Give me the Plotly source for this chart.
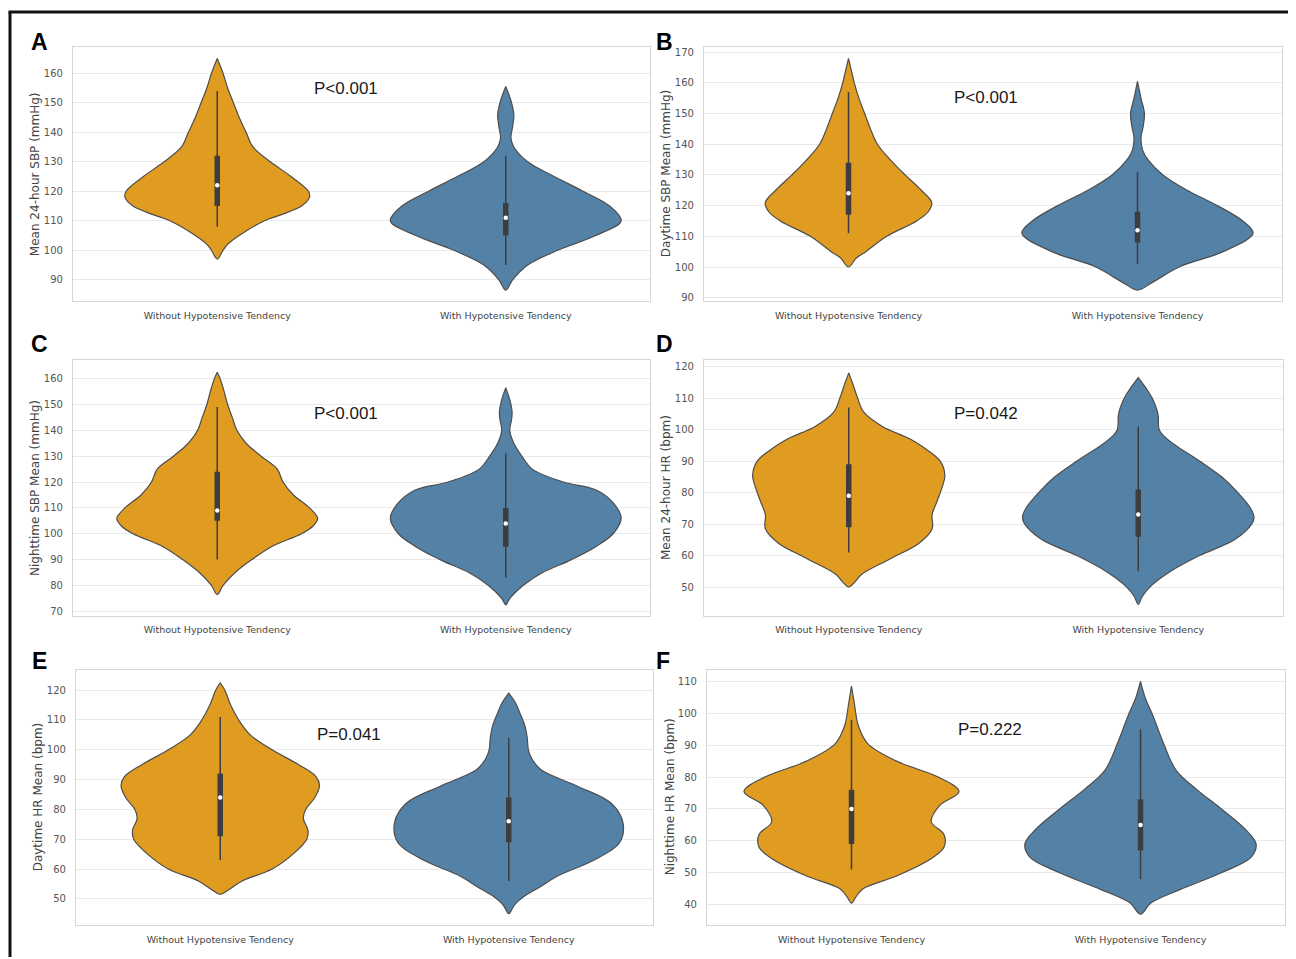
import plotly.graph_objects as go

# page body has an 8px default margin: shift everything so picture aligns with window pixels
OFF = 8
W, H = 1296 - OFF, 959 - OFF

categories = ["Without Hypotensive Tendency", "With Hypotensive Tendency"]
colors = ["#DF9C20", "#5481A6"]

# ---- density outlines (y level, relative half-width 0..1) ----
A_without_y = [97, 100, 102, 105, 110, 112, 115, 118, 120, 125, 130, 135, 140, 145, 150, 155, 160, 165]
A_without_w = [0, 0.05, 0.09, 0.19, 0.41, 0.55, 0.73, 0.80, 0.79, 0.64, 0.46, 0.31, 0.25, 0.19, 0.14, 0.09, 0.05, 0]
A_with_y = [86.5, 90, 95, 100, 105, 110, 115, 120, 125, 130, 135, 138, 142, 146, 150, 153, 155.5]
A_with_w = [0, 0.06, 0.19, 0.45, 0.78, 1.0, 0.90, 0.67, 0.42, 0.19, 0.07, 0.045, 0.06, 0.07, 0.05, 0.025, 0]

B_without_y = [100, 103, 105, 110, 115, 118, 121, 125, 130, 135, 140, 145, 150, 155, 160, 164, 168]
B_without_w = [0, 0.07, 0.15, 0.33, 0.59, 0.69, 0.72, 0.63, 0.49, 0.36, 0.25, 0.19, 0.14, 0.09, 0.05, 0.025, 0]
B_with_y = [92.5, 95, 100, 105, 111, 115, 120, 125, 130, 135, 138, 142, 146, 150, 155, 160.5]
B_with_w = [0, 0.13, 0.36, 0.74, 1.0, 0.91, 0.69, 0.43, 0.22, 0.09, 0.045, 0.03, 0.05, 0.06, 0.03, 0]

C_without_y = [76.5, 80, 85, 90, 95, 100, 103, 106, 110, 115, 120, 125, 130, 135, 140, 145, 150, 155, 160, 162.5]
C_without_w = [0, 0.05, 0.155, 0.30, 0.47, 0.73, 0.83, 0.87, 0.80, 0.66, 0.57, 0.52, 0.38, 0.25, 0.17, 0.13, 0.09, 0.06, 0.025, 0]
C_with_y = [72.5, 75, 80, 85, 90, 95, 100, 106, 112, 117, 120, 125, 130, 135, 140, 144, 147, 151, 156.5]
C_with_w = [0, 0.035, 0.15, 0.32, 0.57, 0.78, 0.93, 1.0, 0.93, 0.78, 0.50, 0.23, 0.14, 0.07, 0.035, 0.05, 0.055, 0.04, 0]

D_without_y = [50, 51.5, 54, 59, 64, 68.5, 73, 77, 81, 85.5, 90, 94, 97, 101, 105.5, 110.7, 115, 118]
D_without_w = [0, 0.05, 0.11, 0.36, 0.61, 0.72, 0.72, 0.76, 0.80, 0.83, 0.79, 0.66, 0.53, 0.29, 0.13, 0.07, 0.03, 0]
D_with_y = [44.5, 47, 50, 55, 60, 65, 70, 72, 75, 80, 85, 90, 95, 98, 100, 105, 110, 113, 116.5]
D_with_w = [0, 0.035, 0.10, 0.28, 0.53, 0.83, 0.98, 1.0, 0.97, 0.86, 0.72, 0.53, 0.32, 0.22, 0.18, 0.17, 0.12, 0.07, 0]

E_without_y = [51.5, 53, 56, 60, 65, 70, 73, 77, 80, 84, 88, 91, 95, 100, 105, 110, 115, 120, 122.5]
E_without_w = [0, 0.07, 0.19, 0.45, 0.63, 0.75, 0.76, 0.72, 0.74, 0.82, 0.86, 0.83, 0.68, 0.45, 0.26, 0.16, 0.09, 0.04, 0]
E_with_y = [45, 48, 51, 54, 57.6, 63, 68.8, 75.5, 82, 87.7, 93.3, 97, 100, 104, 108, 112, 115.6, 119]
E_with_w = [0, 0.05, 0.14, 0.27, 0.42, 0.74, 0.96, 0.99, 0.89, 0.60, 0.28, 0.20, 0.17, 0.16, 0.14, 0.10, 0.06, 0]

F_without_y = [40.5, 42.5, 45, 49, 54, 58, 62, 66, 71, 75.5, 80, 85, 90.5, 96, 103, 108.5]
F_without_w = [0, 0.04, 0.10, 0.39, 0.67, 0.80, 0.80, 0.69, 0.76, 0.93, 0.75, 0.39, 0.14, 0.06, 0.025, 0]
F_with_y = [37, 40.5, 44.7, 50, 55, 59, 63.5, 70, 76, 82, 90.5, 99, 105, 110]
F_with_w = [0, 0.09, 0.34, 0.70, 0.96, 1.0, 0.91, 0.70, 0.49, 0.31, 0.20, 0.11, 0.04, 0]

# ---- inner box stats: [whisker low, q1, median, q3, whisker high] ----
A_stats = [[108, 115, 122, 132, 154], [95, 105, 111, 116, 132]]
B_stats = [[111, 117, 124, 134, 157], [101, 108, 112, 118, 131]]
C_stats = [[90, 105, 109, 124, 149], [83, 95, 104, 110, 131]]
D_stats = [[61, 69, 79, 89, 107], [55, 66, 73, 81, 101]]
E_stats = [[63, 71, 84, 92, 111], [56, 69, 76, 84, 104]]
F_stats = [[51, 59, 70, 76, 98], [48, 57, 65, 73, 95]]

y_titles = ["Mean 24-hour SBP (mmHg)", "Daytime SBP Mean (mmHg)", "Nighttime SBP Mean (mmHg)",
            "Mean 24-hour HR (bpm)", "Daytime HR Mean (bpm)", "Nighttime HR Mean (bpm)"]
p_values = ["P<0.001", "P<0.001", "P<0.001", "P=0.042", "P=0.041", "P=0.222"]
letters = ["A", "B", "C", "D", "E", "F"]
y_ticks = [list(range(90, 161, 10)), list(range(90, 171, 10)), list(range(70, 161, 10)),
           list(range(50, 121, 10)), list(range(50, 121, 10)), list(range(40, 111, 10))]
y_ranges = [[82.7, 168.9], [88.8, 171.7], [68.3, 167.1], [40.9, 122.0], [41.2, 126.9], [33.6, 113.7]]

panels = [
    (A_without_y, A_without_w, A_with_y, A_with_w, A_stats),
    (B_without_y, B_without_w, B_with_y, B_with_w, B_stats),
    (C_without_y, C_without_w, C_with_y, C_with_w, C_stats),
    (D_without_y, D_without_w, D_with_y, D_with_w, D_stats),
    (E_without_y, E_without_w, E_with_y, E_with_w, E_stats),
    (F_without_y, F_without_w, F_with_y, F_with_w, F_stats),
]

# ---- layout geometry (window pixels) ----
boxes = [(73, 650, 47, 302), (704, 1282, 47, 302),
         (73, 650, 361, 617), (704, 1283, 361, 617),
         (76, 653, 671, 927), (707, 1285, 671, 927)]
ytitle_x = [35, 666, 35, 666, 38, 670]
letter_pos = [(40, 42), (665, 42), (40, 345), (665, 345), (40, 662), (663, 662)]
p_pos = [(346, 89), (986, 98), (346, 414), (986, 414), (349, 736), (990, 731)]

def px_x(x):
    return (x - OFF) / W

def px_y(y):
    return 1 - (y - OFF) / H

fig = go.Figure()
HALF = 0.4

for i, (wy, ww, hy, hw, stats) in enumerate(panels):
    n = "" if i == 0 else str(i + 1)
    xa, ya = "x" + n, "y" + n
    for j, (ys, ws) in enumerate([(wy, ww), (hy, hw)]):
        xs = [j + HALF * w for w in ws] + [j - HALF * w for w in ws[::-1]]
        yy = list(ys) + list(ys[::-1])
        fig.add_trace(go.Scatter(x=xs, y=yy, mode="lines", fill="toself",
                                 fillcolor=colors[j], line=dict(color="#4d4d4d", width=1.2, shape="spline", smoothing=1.0),
                                 xaxis=xa, yaxis=ya, showlegend=False, hoverinfo="skip"))
        lo, q1, med, q3, hi = stats[j]
        fig.add_trace(go.Scatter(x=[j, j], y=[lo, hi], mode="lines",
                                 line=dict(color="#3d3d3d", width=1.5),
                                 xaxis=xa, yaxis=ya, showlegend=False, hoverinfo="skip"))
        fig.add_trace(go.Scatter(x=[j, j], y=[q1, q3], mode="lines",
                                 line=dict(color="#3d3d3d", width=5.5),
                                 xaxis=xa, yaxis=ya, showlegend=False, hoverinfo="skip"))
        fig.add_trace(go.Scatter(x=[j], y=[med], mode="markers",
                                 marker=dict(color="white", size=4.5, symbol="circle", line=dict(width=0)),
                                 xaxis=xa, yaxis=ya, showlegend=False, hoverinfo="skip"))

    x0, x1, y0, y1 = boxes[i]
    fig.layout["xaxis" + n] = dict(
        domain=[px_x(x0), px_x(x1)], anchor=ya, range=[-0.5, 1.5],
        tickvals=[0, 1], ticktext=categories, showgrid=False, zeroline=False,
        showline=True, mirror=True, linecolor="#d6d6d6", linewidth=1.2,
        ticks="", ticklabelstandoff=5,
        tickfont=dict(family="DejaVu Sans", size=9.5, color="#444444"), fixedrange=True)
    fig.layout["yaxis" + n] = dict(
        domain=[px_y(y1), px_y(y0)], anchor=xa, range=y_ranges[i],
        tickvals=y_ticks[i], showgrid=True, gridcolor="#e9e9e9", gridwidth=1.2,
        zeroline=False, showline=True, mirror=True, linecolor="#d6d6d6", linewidth=1.2,
        ticks="", ticklabelstandoff=7,
        tickfont=dict(family="DejaVu Sans", size=10, color="#555555"), fixedrange=True)

    fig.add_annotation(x=px_x(ytitle_x[i]), y=px_y((y0 + y1) / 2), xref="paper", yref="paper",
                       text=y_titles[i], textangle=-90, showarrow=False,
                       font=dict(family="DejaVu Sans", size=12, color="#444444"),
                       xanchor="center", yanchor="middle")
    lx, ly = letter_pos[i]
    fig.add_annotation(x=px_x(lx), y=px_y(ly), xref="paper", yref="paper",
                       text="<b>" + letters[i] + "</b>", showarrow=False,
                       font=dict(family="Liberation Sans", size=23, color="#000000"),
                       xanchor="center", yanchor="middle")
    qx, qy = p_pos[i]
    fig.add_annotation(x=px_x(qx), y=px_y(qy), xref="paper", yref="paper",
                       text=p_values[i], showarrow=False,
                       font=dict(family="Liberation Sans", size=17, color="#1a1a1a"),
                       xanchor="center", yanchor="middle")

# outer frame (top and left)
fig.add_shape(type="line", xref="paper", yref="paper", x0=px_x(8.5), x1=1, y0=px_y(12), y1=px_y(12),
              line=dict(color="#111111", width=3))
fig.add_shape(type="line", xref="paper", yref="paper", x0=px_x(10), x1=px_x(10), y0=px_y(12), y1=0,
              line=dict(color="#111111", width=3))

fig.update_layout(width=W, height=H, margin=dict(l=0, r=0, t=0, b=0),
                  paper_bgcolor="white", plot_bgcolor="white", showlegend=False)

fig.write_html("out.html")
